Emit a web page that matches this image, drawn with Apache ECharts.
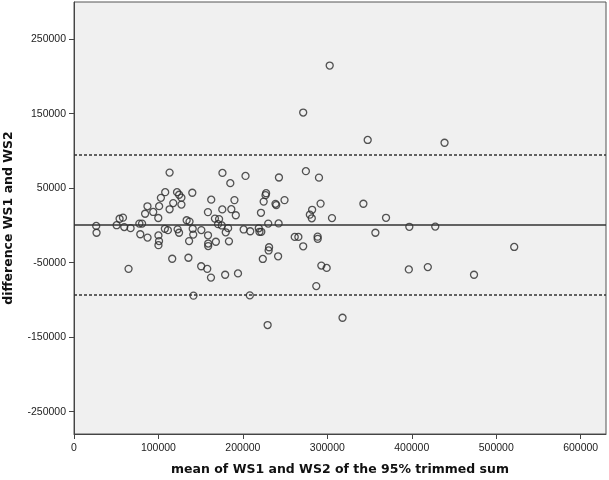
<!DOCTYPE html>
<html>
<head>
<meta charset="utf-8">
<script src="https://cdn.jsdelivr.net/npm/echarts@6/dist/echarts.min.js"></script>
<style>html,body{margin:0;padding:0;background:#fff}#c{width:609px;height:480px}</style>
</head>
<body>
<div id="c"></div>
<script>
// mean of WS1 and WS2 (x) and difference WS1 - WS2 (y)
var meanValues = [302800,271400,347800,438800,113200,175800,203100,274600,242700,290100,
185100,108000,122000,140100,227500,226800,102900,124500,127200,162500,
190000,249300,224600,238600,239500,292000,342700,87000,100800,117500,
127200,113200,175600,186300,282000,158600,221400,84200,93800,279300,
191600,58000,54000,99800,305500,281600,369500,166900,171800,133400,
136800,77400,80600,230000,242300,26300,50500,59500,67000,107600,
111200,175000,182500,170600,122700,140600,150800,200900,208700,218800,
219600,221800,397100,427800,26700,78500,124400,141200,179700,158700,
356900,87100,100000,100700,100000,136300,168000,183500,158900,158900,
261400,265700,288500,288600,271400,231000,230500,521300,116300,135500,
241700,223600,64600,150600,157800,292900,299200,396500,419000,179000,
194200,162200,473700,286900,141500,208200,229300,318000];
var diffValues = [214700,151600,114800,111000,71000,70500,66500,72900,64400,64200,
56800,44700,44700,43900,43300,40700,37100,41200,37300,34600,
34000,34000,32000,29000,27300,29300,29100,25700,25900,30000,
28000,21700,21500,21800,21000,17900,17000,15700,18100,14500,
13700,10500,9000,10000,9900,9600,10300,9200,8500,7000,
5200,2500,2500,2500,2700,-600,300,-2200,-3600,-4500,
-6300,0,-3600,1700,-5200,-4500,-6200,-5400,-7800,-3800,
-8500,-8500,-1800,-1500,-9800,-11800,-9800,-12300,-9200,-13200,
-9800,-16300,-13400,-21000,-26500,-21000,-21900,-21300,-24300,-27700,
-15400,-15400,-15000,-17900,-28000,-29300,-33600,-28900,-44700,-43400,
-41400,-45000,-58300,-54800,-58300,-53900,-57000,-59000,-55900,-66200,
-64400,-70000,-66200,-81400,-94200,-93900,-133700,-123900];
var meanDiff = 1000;
var upperLimit = 94500;
var lowerLimit = -92500;
var yTickLabels = [-250000,-150000,-50000,50000,150000,250000];

var pts = meanValues.map(function(v,i){return [v, diffValues[i]];});
var chart = echarts.init(document.getElementById('c'));
chart.setOption({
  animation:false,
  backgroundColor:'#ffffff',
  grid:{left:74,right:3,top:2,bottom:46,outerBoundsMode:'none',containLabel:false,show:true,backgroundColor:'#f0f0f0',borderColor:'#555',borderWidth:1},
  xAxis:{
    type:'value',min:0,max:630000,interval:100000,
    name:'mean of WS1 and WS2 of the 95% trimmed sum',
    nameLocation:'middle',nameGap:29,
    nameTextStyle:{fontFamily:'DejaVu Sans',fontWeight:'bold',fontSize:12.5,color:'#111'},
    axisLine:{show:true,onZero:false,lineStyle:{color:'#444',width:1}},
    axisTick:{show:true,length:5,lineStyle:{color:'#444'}},
    axisLabel:{fontFamily:'Liberation Sans',fontSize:10.5,color:'#222',margin:9,
      formatter:function(v){return String(v);}},
    splitLine:{show:false}
  },
  yAxis:{
    type:'value',min:-280000,max:300000,
    name:'difference WS1 and WS2',
    nameLocation:'middle',nameGap:59,
    nameTextStyle:{fontFamily:'DejaVu Sans',fontWeight:'bold',fontSize:12.5,color:'#111'},
    axisLine:{show:true,onZero:false,lineStyle:{color:'#444',width:1}},
    axisTick:{show:true,length:5,lineStyle:{color:'#444'},customValues:yTickLabels},
    axisLabel:{fontFamily:'Liberation Sans',fontSize:10.5,color:'#222',margin:8,customValues:yTickLabels,
      formatter:function(v){return String(v);}},
    splitLine:{show:false}
  },
  series:[{
    type:'scatter',
    data:pts,
    symbol:'circle',
    symbolSize:7,
    itemStyle:{color:'rgba(0,0,0,0)',borderColor:'#2a2a2a',borderWidth:1.3},
    markLine:{
      silent:true,symbol:'none',label:{show:false},animation:false,
      data:[
        {yAxis:meanDiff,lineStyle:{type:'solid',color:'#333',width:1.6}},
        {yAxis:upperLimit,lineStyle:{type:[3,2],color:'#333',width:1.6}},
        {yAxis:lowerLimit,lineStyle:{type:[3,2],color:'#333',width:1.6}}
      ]
    }
  }]
});
</script>
</body>
</html>
